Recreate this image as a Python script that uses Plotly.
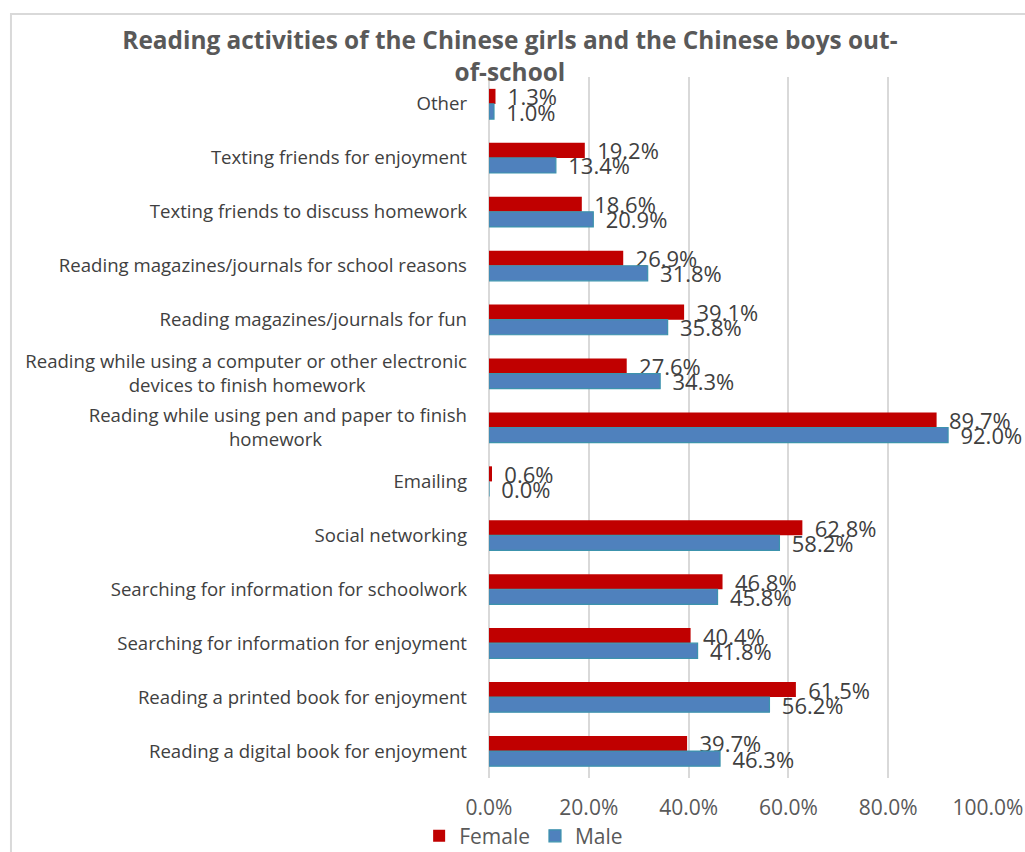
import plotly.graph_objects as go

NBSP = "\u00a0"

# Activities, listed top to bottom (wrapped lines padded so they sit centred)
categories = [
    "Other",
    "Texting friends for enjoyment",
    "Texting friends to discuss homework",
    "Reading magazines/journals for school reasons",
    "Reading magazines/journals for fun",
    "Reading while using a computer or other electronic<br>devices to finish homework" + NBSP * 21,
    "Reading while using pen and paper to finish<br>homework" + NBSP * 30,
    "Emailing",
    "Social networking",
    "Searching for information for schoolwork",
    "Searching for information for enjoyment",
    "Reading a printed book for enjoyment",
    "Reading a digital book for enjoyment",
]

female = [1.3, 19.2, 18.6, 26.9, 39.1, 27.6, 89.7, 0.6, 62.8, 46.8, 40.4, 61.5, 39.7]
male = [1.0, 13.4, 20.9, 31.8, 35.8, 34.3, 92.0, 0.0, 58.2, 45.8, 41.8, 56.2, 46.3]

x_ticks = [0, 20, 40, 60, 80, 100]
x_tick_labels = ["0.0%", "20.0%", "40.0%", "60.0%", "80.0%", "100.0%"]

FONT = "Open Sans"
label_font = dict(family=FONT, size=22, color="#404040")
LABEL_TEMPLATE = NBSP + "\u2009%{text}"

fig = go.Figure()
fig.add_trace(go.Bar(
    name="Female", y=categories, x=female, orientation="h",
    marker=dict(color="#C00000", line=dict(width=0)),
    text=[f"{v:.1f}%" for v in female],
    texttemplate=LABEL_TEMPLATE,
    textposition="outside", textfont=label_font,
    constraintext="none", cliponaxis=False,
))
fig.add_trace(go.Bar(
    name="Male", y=categories, x=male, orientation="h",
    marker=dict(color="#4F81BD", line=dict(color="#3C93AD", width=1.2)),
    text=[f"{v:.1f}%" for v in male],
    texttemplate=LABEL_TEMPLATE,
    textposition="outside", textfont=label_font,
    constraintext="none", cliponaxis=False,
))

# Outer chart border
fig.add_shape(type="rect", xref="paper", yref="paper",
              x0=-0.958, x1=1.09, y0=-0.12, y1=1.0899,
              line=dict(color="#D9D9D9", width=2), layer="below")

fig.update_layout(
    width=1025, height=852,
    margin=dict(l=489, r=37, t=77, b=74, autoexpand=False),
    paper_bgcolor="white", plot_bgcolor="white",
    barmode="group", bargap=0.44, bargroupgap=0,
    uniformtext=dict(mode=False),
    title=dict(
        text="Reading activities of the Chinese girls and the Chinese boys out-<br>of-school",
        x=0.4975, xanchor="center", y=0.942, yanchor="middle",
        font=dict(family=FONT, size=24.4, color="#595959", weight="bold"),
    ),
    font=dict(family=FONT, color="#404040"),
    legend=dict(
        orientation="h", x=-0.14, xanchor="left", y=-0.083, yanchor="middle",
        font=dict(family=FONT, size=21, color="#595959"),
        itemwidth=30, tracegroupgap=0,
    ),
    showlegend=True,
)

fig.update_xaxes(
    range=[0, 100], tickvals=x_ticks, ticktext=x_tick_labels,
    showgrid=True, gridcolor="#D9D9D9", gridwidth=2,
    zeroline=True, zerolinecolor="#D9D9D9", zerolinewidth=2,
    showline=False, ticks="", automargin=False,
    tickfont=dict(family=FONT, size=21, color="#595959"),
    ticklabelstandoff=15,
)
fig.update_yaxes(
    autorange="reversed", showgrid=False, showline=False, ticks="",
    automargin=False,
    tickfont=dict(family=FONT, size=18.6, color="#404040"),
    ticklabelstandoff=21,
)

fig.write_html("out.html")
